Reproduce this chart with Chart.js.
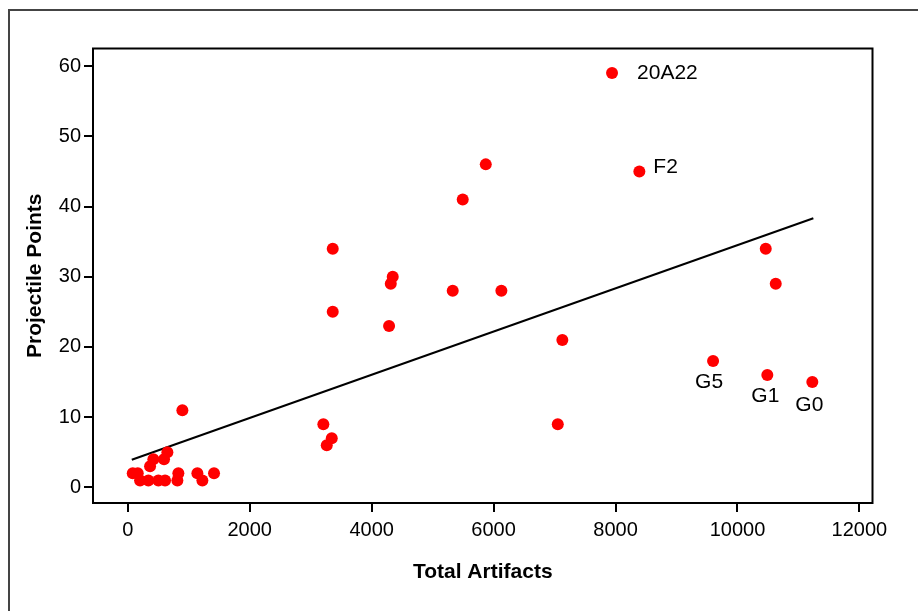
<!DOCTYPE html>
<html>
<head>
<meta charset="utf-8">
<script src="https://cdn.jsdelivr.net/npm/chart.js@4.4.1/dist/chart.umd.min.js"></script>
<style>
  html, body { margin: 0; padding: 0; background: #fff; }
  canvas { display: block; }
</style>
</head>
<body>
<canvas id="chart" width="918" height="611"></canvas>
<script>
// Total artifacts vs. projectile points per site
const artifacts = [7943, 8391, 5872, 5494, 3362, 4346, 4314, 5330, 6128, 3362, 4286, 7128,
  10464, 10628, 9600, 10490, 11228, 7053, 3208, 3346, 3264, 896, 650, 595, 420, 366,
  82, 164, 202, 338, 502, 612, 830, 814, 1142, 1224, 1415];
const projPoints = [59, 45, 46, 41, 34, 30, 29, 28, 28, 25, 23, 21,
  34, 29, 18, 16, 15, 9, 9, 7, 6, 11, 5, 4, 4, 3,
  2, 2, 1, 1, 1, 1, 2, 1, 2, 1, 2];
const siteNames = ['20A22', 'F2', '', '', '', '', '', '', '', '', '', '',
  '', '', 'G5', 'G1', 'G0', '', '', '', '', '', '', '', '', '',
  '', '', '', '', '', '', '', '', '', '', ''];

// regressielijn (begin- en eindpunt)
const fitX = [66, 11245];
const fitY = [3.94, 38.33];

const xTicks = [0, 2000, 4000, 6000, 8000, 10000, 12000];
const yTicks = [0, 10, 20, 30, 40, 50, 60];

const FONT = '"Liberation Sans", Arial, sans-serif';

// waar het label t.o.v. de stip staat
const labelPos = {
  '20A22': { dx: 25, dy: 0, align: 'left' },
  'F2':    { dx: 14, dy: -4, align: 'left' },
  'G5':    { dx: -4, dy: 21, align: 'center' },
  'G1':    { dx: -2, dy: 21, align: 'center' },
  'G0':    { dx: -3, dy: 23, align: 'center' }
};

const framePlugin = {
  id: 'frame',
  beforeDraw(c) {
    const ctx = c.ctx;
    ctx.save();
    ctx.strokeStyle = '#444';
    ctx.lineWidth = 2;
    ctx.beginPath();
    ctx.moveTo(9, 611);
    ctx.lineTo(9, 10);
    ctx.lineTo(918, 10);
    ctx.stroke();
    ctx.restore();
  },
  afterDraw(c) {
    const a = c.chartArea, ctx = c.ctx;
    ctx.save();
    ctx.strokeStyle = '#000';
    ctx.lineWidth = 2;
    ctx.strokeRect(a.left, a.top, a.right - a.left, a.bottom - a.top);
    ctx.restore();
  }
};

const labelPlugin = {
  id: 'siteLabels',
  afterDatasetsDraw(c) {
    const ctx = c.ctx, xs = c.scales.x, ys = c.scales.y;
    ctx.save();
    ctx.font = '21px ' + FONT;
    ctx.fillStyle = '#000';
    ctx.textBaseline = 'middle';
    siteNames.forEach((n, i) => {
      if (!n) return;
      const p = labelPos[n];
      ctx.textAlign = p.align;
      ctx.fillText(n, xs.getPixelForValue(artifacts[i]) + p.dx, ys.getPixelForValue(projPoints[i]) + p.dy);
    });
    ctx.restore();
  }
};

new Chart(document.getElementById('chart'), {
  type: 'scatter',
  plugins: [framePlugin, labelPlugin],
  data: {
    datasets: [
      {
        data: artifacts.map((x, i) => ({ x, y: projPoints[i] })),
        backgroundColor: '#ff0000', borderWidth: 0, pointRadius: 6, pointHoverRadius: 6
      },
      {
        type: 'line',
        data: fitX.map((x, i) => ({ x, y: fitY[i] })),
        borderColor: '#000', borderWidth: 2, pointRadius: 0, fill: false, tension: 0
      }
    ]
  },
  options: {
    responsive: false, animation: false,
    layout: { padding: { left: 0, top: 48.5, right: 45.5, bottom: 0 } },
    plugins: { legend: { display: false }, tooltip: { enabled: false } },
    scales: {
      x: {
        type: 'linear', min: -570, max: 12215,
        afterBuildTicks: s => { s.ticks = xTicks.map(v => ({ value: v })); },
        afterFit: s => { s.height = 108; },
        ticks: { color: '#000', font: { family: FONT, size: 20 }, padding: 6, maxRotation: 0,
          callback: v => String(v) },
        grid: { drawOnChartArea: false, drawTicks: true, tickLength: 9, color: '#000', lineWidth: 2 },
        border: { display: false },
        title: { display: true, text: 'Total Artifacts', color: '#000',
          font: { family: FONT, size: 21, weight: 'bold' }, padding: { top: 0, bottom: 26 } }
      },
      y: {
        type: 'linear', min: -2.22, max: 62.5,
        afterBuildTicks: s => { s.ticks = yTicks.map(v => ({ value: v })); },
        afterFit: s => { s.width = 93; },
        ticks: { color: '#000', font: { family: FONT, size: 20 }, padding: 3,
          callback: v => String(v) },
        grid: { drawOnChartArea: false, drawTicks: true, tickLength: 9, color: '#000', lineWidth: 2 },
        border: { display: false },
        title: { display: true, text: 'Projectile Points', color: '#000',
          font: { family: FONT, size: 21, weight: 'bold' }, padding: { top: 23, bottom: 0 } }
      }
    }
  }
});
</script>
</body>
</html>
